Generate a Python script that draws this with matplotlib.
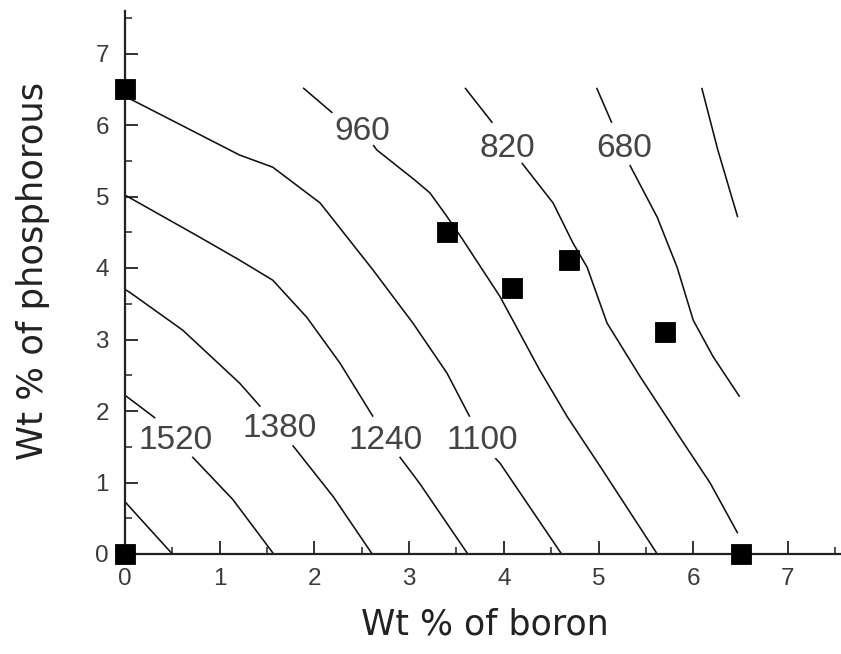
import matplotlib
matplotlib.use("Agg")
import matplotlib.pyplot as plt
from matplotlib.ticker import MultipleLocator

# Iso-lines of the response surface, each given as traced segments
# (a segment break leaves room for the level's label).
contour_1660 = [[(0.00, 0.73), (0.50, 0.00)]]
contour_1520 = [
    [(0.00, 2.22), (0.32, 1.90)],
    [(0.71, 1.36), (1.14, 0.76), (1.57, 0.00)],
]
contour_1380 = [
    [(0.00, 3.70), (0.05, 3.66), (0.61, 3.13), (1.21, 2.39), (1.43, 2.06)],
    [(1.77, 1.52), (2.20, 0.80), (2.61, 0.00)],
]
contour_1240 = [
    [(0.00, 5.02), (0.79, 4.43), (1.21, 4.11), (1.56, 3.83), (1.92, 3.31),
     (2.27, 2.67), (2.62, 1.92)],
    [(2.90, 1.36), (3.11, 0.99), (3.62, 0.00)],
]
contour_1100 = [
    [(0.00, 6.40), (0.12, 6.32), (1.21, 5.58), (1.56, 5.41), (2.06, 4.91),
     (2.62, 3.97), (3.04, 3.23), (3.40, 2.53), (3.64, 1.92)],
    [(3.91, 1.34), (3.96, 1.27), (4.61, 0.00)],
]
contour_960 = [
    [(1.88, 6.52), (2.19, 6.17)],
    [(2.62, 5.72), (2.66, 5.65), (3.06, 5.23), (3.22, 5.05), (3.40, 4.72),
     (3.57, 4.39), (3.96, 3.60), (4.38, 2.57), (4.67, 1.92), (5.02, 1.22),
     (5.62, 0.00)],
]
contour_820 = [
    [(3.59, 6.52), (3.88, 6.03)],
    [(4.19, 5.47), (4.52, 4.91), (4.73, 4.35), (4.88, 4.01), (5.09, 3.23),
     (5.44, 2.48), (5.83, 1.69), (6.18, 0.99), (6.47, 0.29)],
]
contour_680 = [
    [(4.98, 6.52), (5.14, 6.03)],
    [(5.33, 5.44), (5.62, 4.71), (5.83, 4.01), (6.00, 3.27), (6.21, 2.76),
     (6.49, 2.20)],
]
contour_540 = [[(6.09, 6.52), (6.26, 5.65), (6.47, 4.71)]]

all_contours = [contour_1660, contour_1520, contour_1380, contour_1240,
                contour_1100, contour_960, contour_820, contour_680, contour_540]

# Labelled levels and where their labels sit (x centre, baseline y)
label_levels = [1520, 1380, 1240, 1100, 960, 820, 680]
label_x = [0.53, 1.63, 2.75, 3.77, 2.51, 4.04, 5.27]
label_y = [1.47, 1.64, 1.47, 1.47, 5.79, 5.55, 5.55]

# Experimental compositions (wt % boron, wt % phosphorous)
boron = [0.0, 0.0, 3.40, 4.09, 4.69, 5.70, 6.50]
phosphorous = [0.0, 6.50, 4.50, 3.72, 4.11, 3.10, 0.0]

W, H = 841, 654
fig = plt.figure(figsize=(W / 100, H / 100), dpi=100)
ax = fig.add_axes([125 / W, 100 / H, 715 / W, 543.4 / H])

for contour in all_contours:
    for seg in contour:
        xs = [p[0] for p in seg]
        ys = [p[1] for p in seg]
        ax.plot(xs, ys, color="#111111", lw=1.15, solid_capstyle="butt")

for lev, lx, ly in zip(label_levels, label_x, label_y):
    ax.text(lx, ly, str(lev), ha="center", va="baseline",
            fontsize=24, family="Liberation Sans", color="#444444")

ax.plot(boron, phosphorous, linestyle="none", marker="s", markersize=15,
        color="black", markeredgewidth=0.6, clip_on=False, zorder=5)

ax.set_xlim(0, 7.55)
ax.set_ylim(0, 7.6)

for side in ("top", "right"):
    ax.spines[side].set_visible(False)
for side in ("left", "bottom"):
    ax.spines[side].set_linewidth(1.6)
    ax.spines[side].set_color("#222222")

ax.xaxis.set_major_locator(MultipleLocator(1))
ax.xaxis.set_minor_locator(MultipleLocator(0.5))
ax.yaxis.set_major_locator(MultipleLocator(1))
ax.yaxis.set_minor_locator(MultipleLocator(0.5))

ax.tick_params(axis="both", which="major", direction="in", length=9.5,
               width=1.3, color="#222222", labelsize=17.5, labelcolor="#3a3a3a")
ax.tick_params(axis="both", which="minor", direction="in", length=5,
               width=1.1, color="#222222")
ax.tick_params(axis="x", which="major", pad=10)
ax.tick_params(axis="y", which="major", pad=11.5)
for lab in ax.get_xticklabels() + ax.get_yticklabels():
    lab.set_family("Liberation Sans")

ax.set_xlabel("Wt % of boron", fontsize=25, family="DejaVu Sans",
              color="#222222", va="baseline", ha="center")
ax.xaxis.set_label_coords(0.503, -0.149)
ax.set_ylabel("Wt % of phosphorous", fontsize=25.5, family="DejaVu Sans",
              color="#222222", va="baseline", ha="center",
              rotation=90, rotation_mode="anchor")
ax.yaxis.set_label_coords(-0.1147, 0.521)

fig.savefig("out.png", dpi=100)
